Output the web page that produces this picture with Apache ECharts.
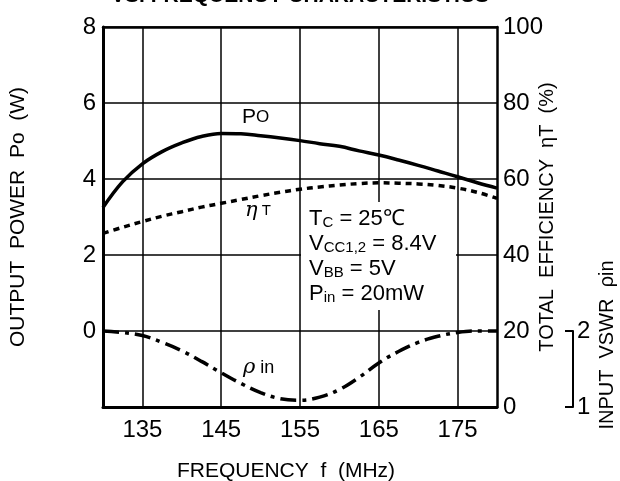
<!DOCTYPE html>
<html>
<head>
<meta charset="utf-8">
<script src="https://cdn.jsdelivr.net/npm/echarts@6.0.0/dist/echarts.min.js"></script>
<style>
  html, body { margin: 0; padding: 0; background: #fff; }
  #graph { width: 620px; height: 481px; }
</style>
</head>
<body>
<div id="graph"></div>
<script>
// frequency (MHz)
var freq = [130, 132.5, 135, 137.5, 140, 142.5, 145, 147.5, 150, 152.5, 155,
            157.5, 160, 162.5, 165, 167.5, 170, 172.5, 175, 177.5, 180];
// output power Po (W)
var po = [3.25, 3.93, 4.4, 4.72, 4.95, 5.12, 5.2, 5.19, 5.14, 5.08, 5.01,
          4.93, 4.86, 4.74, 4.63, 4.5, 4.36, 4.21, 4.06, 3.9, 3.76];
// total efficiency eta T (%)
var eta = [45.7, 47.3, 48.8, 50.2, 51.4, 52.6, 53.6, 54.6, 55.6, 56.5, 57.3,
           57.9, 58.4, 58.8, 59.0, 58.9, 58.7, 58.3, 57.6, 56.5, 54.9];
// input VSWR rho in
var vswr = [2.0, 1.98, 1.94, 1.85, 1.74, 1.6, 1.45, 1.31, 1.19, 1.11, 1.09,
            1.13, 1.23, 1.39, 1.58, 1.73, 1.85, 1.93, 1.98, 2.0, 2.0];

var freqTicks = [135, 145, 155, 165, 175];

var numFont = '"Liberation Sans Narrow", "Liberation Sans", sans-serif';
var txtFont = '"Liberation Sans", Arial, sans-serif';

function pairs(ys) {
    var out = [];
    for (var i = 0; i < freq.length; i++) {
        out.push([freq[i], ys[i]]);
    }
    return out;
}

var myChart = echarts.init(document.getElementById('graph'));

var option = {
    animation: false,
    backgroundColor: '#fff',
    grid: [
        {left: 103, right: 123, top: 27, bottom: 74, outerBoundsMode: 'none'},
        // small grid only for the VSWR bracket scale
        {left: 573, width: 10, top: 331, bottom: 74, outerBoundsMode: 'none'}
    ],
    xAxis: [
        {
            type: 'value', gridIndex: 0, min: 130, max: 180,
            axisLine: {onZero: false, lineStyle: {color: '#000', width: 3}},
            axisTick: {show: false, customValues: freqTicks},
            axisLabel: {customValues: freqTicks, color: '#000', fontSize: 24,
                        fontFamily: numFont, margin: 11},
            splitLine: {show: true, lineStyle: {color: '#000', width: 1.5}},
            name: 'FREQUENCY  f  (MHz)', nameLocation: 'middle', nameGap: 54,
            nameMoveOverlap: false,
            nameTextStyle: {color: '#000', fontSize: 21, fontFamily: txtFont,
                            padding: [0, 28, 0, 0]}
        },
        {
            type: 'value', gridIndex: 0, position: 'top', min: 130, max: 180,
            axisLine: {show: true, onZero: false, lineStyle: {color: '#000', width: 2.5}},
            axisTick: {show: false}, axisLabel: {show: false}, splitLine: {show: false}
        },
        {
            type: 'value', gridIndex: 1, min: 0, max: 1, show: false
        }
    ],
    yAxis: [
        {
            type: 'value', gridIndex: 0, position: 'left', min: -2, max: 8, interval: 2,
            axisLine: {show: true, onZero: false, lineStyle: {color: '#000', width: 3}},
            axisTick: {show: false},
            axisLabel: {color: '#000', fontSize: 24, fontFamily: numFont, margin: 7,
                        formatter: function (v) { return v < 0 ? '' : v; }},
            splitLine: {show: true, lineStyle: {color: '#000', width: 1.5}},
            name: 'OUTPUT  POWER  Po  (W)', nameLocation: 'middle', nameGap: 74,
            nameMoveOverlap: false,
            nameTextStyle: {color: '#000', fontSize: 21, fontFamily: txtFont}
        },
        {
            type: 'value', gridIndex: 0, position: 'right', min: 0, max: 100, interval: 20,
            axisLine: {show: true, onZero: false, lineStyle: {color: '#000', width: 2.5}},
            axisTick: {show: false},
            axisLabel: {color: '#000', fontSize: 24, fontFamily: numFont, margin: 6},
            splitLine: {show: false},
            name: 'TOTAL  EFFICIENCY  ηT  (%)', nameLocation: 'middle', nameGap: 50,
            nameRotate: 90, nameMoveOverlap: false,
            nameTextStyle: {color: '#000', fontSize: 20, fontFamily: txtFont,
                            verticalAlign: 'middle'}
        },
        {
            type: 'value', gridIndex: 1, position: 'left', min: 1, max: 2, interval: 1,
            axisLine: {show: true, lineStyle: {color: '#000', width: 2}},
            axisTick: {show: true, inside: false, length: 8, lineStyle: {color: '#000', width: 2}},
            axisLabel: {inside: true, color: '#000', fontSize: 24, fontFamily: numFont, margin: 4},
            splitLine: {show: false}
        },
        {
            type: 'value', gridIndex: 0, min: 1, max: 6, show: false
        }
    ],
    graphic: [
        {
            type: 'text', x: 300, y: 7,
            style: {text: 'VS. FREQUENCY CHARACTERISTICS', fill: '#000', align: 'center',
                    verticalAlign: 'bottom', font: 'bold 21px ' + txtFont}
        },
        {
            type: 'text', x: 607, y: 345, rotation: Math.PI / 2,
            style: {text: 'INPUT  VSWR  ρin', fill: '#000', align: 'center',
                    verticalAlign: 'middle', font: '20px ' + txtFont}
        },
        {
            type: 'rect', z: 3,
            shape: {x: 301, y: 202, width: 155, height: 108},
            style: {fill: '#fff'}
        },
        {
            type: 'text', z: 4, x: 309, y: 205,
            style: {
                text: '{m|T}{s|C}{m| = 25℃}\n{m|V}{s|CC1,2}{m| = 8.4V}\n{m|V}{s|BB}{m| = 5V}\n{m|P}{b|in}{m| = 20mW}',
                fill: '#000',
                rich: {
                    m: {fontSize: 22, fontFamily: txtFont, lineHeight: 25, verticalAlign: 'bottom'},
                    s: {fontSize: 15, fontFamily: txtFont, lineHeight: 25, verticalAlign: 'bottom'},
                    b: {fontSize: 15, fontFamily: txtFont, lineHeight: 22, verticalAlign: 'bottom'}
                }
            }
        },
        {
            type: 'text', x: 242, y: 117,
            style: {text: 'P{s|O}', fill: '#000', verticalAlign: 'middle',
                    font: '21px ' + txtFont,
                    rich: {s: {fontSize: 17, fontFamily: txtFont}}}
        },
        {
            type: 'text', x: 245, y: 211,
            style: {text: '{i|η}{s| T}', fill: '#000', verticalAlign: 'middle',
                    rich: {i: {fontSize: 21, fontStyle: 'italic', fontFamily: 'DejaVu Serif, serif'},
                           s: {fontSize: 15, fontFamily: txtFont}}}
        },
        {
            type: 'text', x: 243, y: 368,
            style: {text: '{i|ρ}{s| in}', fill: '#000', verticalAlign: 'middle',
                    rich: {i: {fontSize: 21, fontStyle: 'italic', fontFamily: 'DejaVu Serif, serif'},
                           s: {fontSize: 18, fontFamily: txtFont}}}
        }
    ],
    series: [
        {
            name: 'Po', type: 'line', xAxisIndex: 0, yAxisIndex: 0,
            data: pairs(po), smooth: 0.4, symbol: 'none',
            lineStyle: {color: '#000', width: 3.5}
        },
        {
            name: 'ηT', type: 'line', xAxisIndex: 0, yAxisIndex: 1,
            data: pairs(eta), smooth: 0.4, symbol: 'none',
            lineStyle: {color: '#000', width: 3.5, type: [6, 5]}
        },
        {
            name: 'ρin', type: 'line', xAxisIndex: 0, yAxisIndex: 3,
            data: pairs(vswr), smooth: 0.4, symbol: 'none',
            lineStyle: {color: '#000', width: 3.5, type: [16, 6, 4, 6]}
        }
    ]
};

myChart.setOption(option);
</script>
</body>
</html>
